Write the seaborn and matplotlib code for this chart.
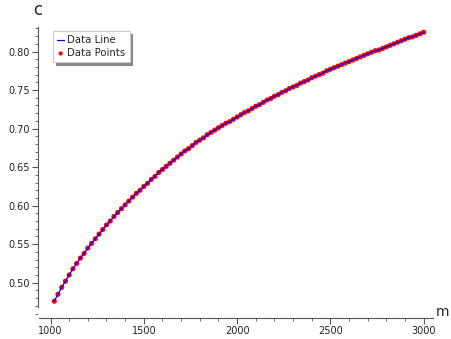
import matplotlib
matplotlib.use("Agg")
import matplotlib.pyplot as plt
import seaborn as sns
import pandas as pd
from matplotlib.ticker import MultipleLocator

m_values = [
    1020, 1040, 1060, 1080, 1100, 1120, 1140, 1160, 1180, 1200,
    1220, 1240, 1260, 1280, 1300, 1320, 1340, 1360, 1380, 1400,
    1420, 1440, 1460, 1480, 1500, 1520, 1540, 1560, 1580, 1600,
    1620, 1640, 1660, 1680, 1700, 1720, 1740, 1760, 1780, 1800,
    1820, 1840, 1860, 1880, 1900, 1920, 1940, 1960, 1980, 2000,
    2020, 2040, 2060, 2080, 2100, 2120, 2140, 2160, 2180, 2200,
    2220, 2240, 2260, 2280, 2300, 2320, 2340, 2360, 2380, 2400,
    2420, 2440, 2460, 2480, 2500, 2520, 2540, 2560, 2580, 2600,
    2620, 2640, 2660, 2680, 2700, 2720, 2740, 2760, 2780, 2800,
    2820, 2840, 2860, 2880, 2900, 2920, 2940, 2960, 2980, 3000,
]
c_values = [
    0.476, 0.485, 0.494, 0.502, 0.510, 0.518, 0.525, 0.532, 0.538, 0.545,
    0.551, 0.557, 0.563, 0.569, 0.575, 0.580, 0.586, 0.591, 0.596, 0.601,
    0.606, 0.611, 0.616, 0.620, 0.625, 0.629, 0.634, 0.638, 0.643, 0.647,
    0.651, 0.655, 0.659, 0.663, 0.667, 0.671, 0.674, 0.678, 0.682, 0.685,
    0.688, 0.692, 0.695, 0.698, 0.701, 0.704, 0.707, 0.709, 0.712, 0.715,
    0.718, 0.721, 0.723, 0.726, 0.729, 0.731, 0.734, 0.737, 0.739, 0.742,
    0.744, 0.747, 0.749, 0.752, 0.754, 0.756, 0.759, 0.761, 0.763, 0.766,
    0.768, 0.770, 0.772, 0.775, 0.777, 0.779, 0.781, 0.783, 0.785, 0.787,
    0.789, 0.791, 0.793, 0.795, 0.797, 0.799, 0.801, 0.802, 0.804, 0.806,
    0.808, 0.810, 0.812, 0.814, 0.816, 0.818, 0.819, 0.821, 0.823, 0.825,
]
x_ticks = [1000, 1500, 2000, 2500, 3000]
y_ticks = [0.50, 0.55, 0.60, 0.65, 0.70, 0.75, 0.80]

df = pd.DataFrame({"m": m_values, "c": c_values})

sns.set_style("white")
plt.rcParams["font.family"] = ["DejaVu Sans"]

W, H = 451, 339
fig = plt.figure(figsize=(W / 100, H / 100), dpi=100)
left, right, top, bottom = 38, 433, 27, 318
ax = fig.add_axes([left / W, 1 - bottom / H, (right - left) / W, (bottom - top) / H])

sns.scatterplot(data=df, x="m", y="c", ax=ax, color="red", s=14,
                edgecolor="none", label="Data Points", zorder=2)
sns.lineplot(data=df, x="m", y="c", ax=ax, color="blue", linewidth=0.9,
             label="Data Line", zorder=3)

ax.set_xlim(933, 3050)
ax.set_ylim(0.4542, 0.8318)
ax.set_xticks(x_ticks)
ax.set_xticklabels([str(v) for v in x_ticks])
ax.set_yticks(y_ticks)
ax.set_yticklabels([f"{v:.2f}" for v in y_ticks])
ax.xaxis.set_minor_locator(MultipleLocator(100))
ax.yaxis.set_minor_locator(MultipleLocator(0.01))

axis_col = "#555555"
for s in ["top", "right"]:
    ax.spines[s].set_visible(False)
ax.spines["bottom"].set_bounds(938, 3050)
ax.spines["left"].set_bounds(0.4684, 0.8318)
for s in ["bottom", "left"]:
    ax.spines[s].set_color(axis_col)
    ax.spines[s].set_linewidth(0.8)

ax.tick_params(which="major", direction="out", length=4, width=0.8,
               color=axis_col, labelsize=7, labelcolor="#222222", pad=2)
ax.tick_params(which="minor", direction="out", length=2, width=0.6,
               color=axis_col)
ax.tick_params(axis="both", which="both", bottom=True, left=True)

ax.set_xlabel("")
ax.set_ylabel("")
fig.text(38 / W, 1 - 10 / H, "c", fontsize=12, ha="center", va="center")
fig.text(436 / W, 1 - 312 / H, "m", fontsize=10, ha="left", va="center")

handles, labels = ax.get_legend_handles_labels()
order = [labels.index("Data Line"), labels.index("Data Points")]
leg = ax.legend([handles[i] for i in order], [labels[i] for i in order],
                loc="upper left", bbox_to_anchor=(53 / W, 1 - 31 / H),
                bbox_transform=fig.transFigure, fontsize=7.3, frameon=True,
                fancybox=False, shadow={"color": "#888888", "alpha": 1},
                handlelength=0.7, handletextpad=0.3, borderpad=0.4,
                labelspacing=0.3, borderaxespad=0, markerscale=0.8)
leg.get_frame().set_edgecolor("#cccccc")
leg.get_frame().set_linewidth(0.8)

fig.savefig("out.png", dpi=100)
